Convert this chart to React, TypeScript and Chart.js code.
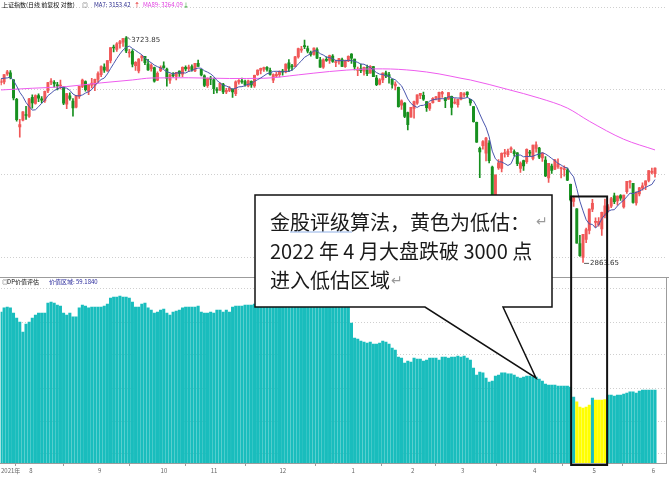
import React, { useEffect, useRef } from 'react';
import { Chart, registerables } from 'chart.js';
Chart.register(...registerables);

// ---------- trading calendar (one entry per candle) ----------
const monthDays: Array<[string, number[]]> = [
  ['2021-07', [20, 21, 22, 23, 26, 27, 28, 29, 30]],
  ['2021-08', [2, 3, 4, 5, 6, 9, 10, 11, 12, 13, 16, 17, 18, 19, 20, 23, 24, 25, 26, 27, 30, 31]],
  ['2021-09', [1, 2, 3, 6, 7, 8, 9, 10, 13, 14, 15, 16, 17, 22, 23, 24, 27, 28, 29, 30]],
  ['2021-10', [8, 11, 12, 13, 14, 15, 18, 19, 20, 21, 22, 25, 26, 27, 28, 29]],
  ['2021-11', [1, 2, 3, 4, 5, 8, 9, 10, 11, 12, 15, 16, 17, 18, 19, 22, 23, 24, 25, 26, 29, 30]],
  ['2021-12', [1, 2, 3, 6, 7, 8, 9, 10, 13, 14, 15, 16, 17, 20, 21, 22, 23, 24, 27, 28, 29, 30, 31]],
  ['2022-01', [4, 5, 6, 7, 10, 11, 12, 13, 14, 17, 18, 19, 20, 21, 24, 25, 26, 27, 28]],
  ['2022-02', [7, 8, 9, 10, 11, 14, 15, 16, 17, 18, 21, 22, 23, 24, 25, 28]],
  ['2022-03', [1, 2, 3, 4, 7, 8, 9, 10, 11, 14, 15, 16, 17, 18, 21, 22, 23, 24, 25, 28, 29, 30, 31]],
  ['2022-04', [1, 6, 7, 8, 11, 12, 13, 14, 15, 18, 19, 20, 21, 22, 25, 26, 27, 28, 29]],
  ['2022-05', [5, 6, 9, 10, 11, 12, 13, 16, 17, 18, 19, 20, 23, 24, 25, 26, 27, 30, 31]],
  ['2022-06', [1, 2]],
];
const monthTickLabels = ['2021年', '8', '9', '10', '11', '12', '1', '2', '3', '4', '5', '6'];

// ---------- 上证指数 daily OHLC ----------
const open = [
  3530, 3533, 3566, 3570, 3541, 3462, 3353, 3379, 3400,
  3394, 3470, 3446, 3477, 3464, 3456, 3496, 3532, 3531, 3521, 3516, 3512, 3443, 3476, 3455, 3431, 3474, 3514, 3534, 3495, 3520, 3520,
  3543, 3563, 3594, 3578, 3622, 3678, 3669, 3694, 3700, 3718, 3654, 3661, 3600, 3578, 3633, 3640, 3608, 3588, 3592, 3540,
  3579, 3600, 3586, 3540, 3563, 3556, 3578, 3565, 3593, 3588, 3597, 3578, 3610, 3585, 3558, 3518,
  3545, 3541, 3502, 3500, 3524, 3492, 3498, 3504, 3485, 3532, 3535, 3534, 3516, 3535, 3516, 3563, 3580, 3586, 3593, 3581, 3540, 3558,
  3563, 3576, 3574, 3612, 3600, 3596, 3637, 3666, 3686, 3673, 3657, 3648, 3668, 3625, 3594, 3624, 3622, 3641, 3613, 3619, 3626, 3596, 3620,
  3649, 3628, 3581, 3588, 3577, 3592, 3569, 3597, 3549, 3524, 3541, 3570, 3563, 3545, 3517, 3511, 3439, 3447, 3409,
  3391, 3426, 3447, 3478, 3478, 3453, 3426, 3449, 3468, 3454, 3484, 3468, 3463, 3474, 3447, 3441,
  3463, 3480, 3491, 3462, 3433, 3371, 3270, 3280, 3252, 3290, 3200, 3067, 3196, 3195, 3250, 3246, 3266, 3258, 3253, 3195, 3224, 3220, 3255,
  3232, 3270, 3271, 3234, 3226, 3159, 3203, 3192, 3200, 3194, 3190, 3188, 3136, 3074, 3048, 2927, 2880, 2941, 2972,
  3047, 3000, 2992, 2977, 3024, 3044, 3057, 3094, 3076, 3095, 3055, 3109, 3144, 3140, 3069, 3101, 3122, 3133, 3150,
  3180, 3175,
];
const high = [
  3545, 3563, 3581, 3580, 3543, 3466, 3382, 3413, 3434,
  3466, 3480, 3480, 3484, 3473, 3495, 3531, 3547, 3538, 3531, 3540, 3514, 3486, 3488, 3465, 3478, 3515, 3545, 3537, 3523, 3548, 3545,
  3575, 3600, 3608, 3622, 3677, 3688, 3698, 3708, 3717, 3723.85, 3670, 3668, 3618, 3630, 3643, 3640, 3627, 3608, 3594, 3575,
  3600, 3616, 3590, 3566, 3572, 3573, 3579, 3595, 3600, 3603, 3604, 3610, 3624, 3586, 3562, 3550,
  3556, 3549, 3510, 3529, 3527, 3507, 3514, 3505, 3537, 3543, 3549, 3540, 3540, 3537, 3561, 3583, 3590, 3594, 3597, 3590, 3566, 3574,
  3579, 3585, 3608, 3626, 3606, 3640, 3675, 3682, 3708.94, 3683, 3662, 3676, 3676, 3635, 3629, 3638, 3645, 3647, 3624, 3631, 3632, 3624, 3642,
  3651, 3628, 3594, 3607, 3594, 3603, 3601, 3598, 3560, 3547, 3570, 3578, 3573, 3545, 3533, 3512, 3460, 3449, 3411,
  3430, 3455, 3480, 3486, 3491, 3453, 3447, 3469, 3474, 3491, 3494, 3469, 3489, 3475, 3465, 3463,
  3490, 3489, 3492, 3462, 3433, 3372, 3275, 3300, 3312, 3300, 3203, 3170, 3228, 3253, 3266, 3267, 3276, 3264, 3254, 3219, 3226, 3268, 3263,
  3283, 3295, 3274, 3253, 3239, 3214, 3211, 3229, 3230, 3200, 3204, 3196, 3137, 3093, 3049, 2955, 2958, 2980, 3048,
  3082, 3016, 3017, 3036, 3083, 3063, 3089, 3104, 3094, 3099, 3097, 3147, 3150, 3140, 3108, 3125, 3141, 3149, 3187,
  3196, 3197,
];
const low = [
  3521, 3525, 3560, 3545, 3460, 3375, 3312.72, 3376, 3382,
  3390, 3427, 3443, 3453, 3448, 3450, 3489, 3522, 3511, 3500, 3504, 3441, 3425, 3459, 3395, 3428, 3466, 3509, 3495, 3481, 3508, 3497,
  3531, 3555, 3572, 3576, 3612, 3658, 3661, 3674, 3682, 3655, 3636, 3595, 3580, 3570, 3620, 3605, 3580, 3577, 3532, 3538,
  3575, 3589, 3515, 3527, 3553, 3541, 3556, 3555, 3578, 3576, 3577, 3575, 3597, 3558, 3513, 3510,
  3522, 3485, 3488, 3497, 3485, 3485, 3493, 3470, 3477, 3524, 3527, 3515, 3512, 3510, 3510, 3560, 3566, 3576, 3577, 3561, 3530, 3552,
  3554, 3561, 3570, 3575, 3582, 3595, 3632, 3656, 3672, 3654, 3640, 3645, 3630, 3593, 3589, 3618, 3610, 3614, 3596, 3607, 3596, 3593, 3617,
  3610, 3583, 3559, 3571, 3561, 3559, 3569, 3555, 3518, 3521, 3530, 3550, 3528, 3507, 3500, 3431, 3422, 3389, 3341,
  3391, 3387, 3442, 3465, 3458, 3414, 3418, 3447, 3460, 3453, 3470, 3429, 3462, 3400, 3444, 3431,
  3460, 3471, 3471, 3438, 3371, 3293, 3160, 3267, 3223, 3215, 3023, 3052, 3191, 3182, 3237, 3239, 3254, 3240, 3205, 3180, 3187, 3213, 3240,
  3226, 3256, 3231, 3221, 3164, 3143, 3176, 3190, 3195, 3159, 3166, 3149, 3076, 3056, 2928, 2884, 2863.65, 2930, 2960,
  3038, 2983, 2987, 2955, 3016, 3036, 3052, 3066, 3061, 3078, 3050, 3103, 3122, 3068, 3061, 3094, 3115, 3117, 3145,
  3174, 3162,
];
const close = [
  3536.79, 3562.70, 3574.73, 3550.40, 3467.44, 3381.18, 3361.59, 3411.72, 3397.36,
  3464.29, 3447.99, 3477.22, 3466.56, 3458.23, 3494.63, 3529.93, 3532.62, 3524.74, 3516.30, 3517.34, 3446.98, 3485.29, 3465.55, 3427.33, 3477.13, 3514.47, 3540.38, 3501.66, 3522.16, 3528.15, 3543.94,
  3567.10, 3597.04, 3581.73, 3621.86, 3676.59, 3675.19, 3693.13, 3703.11, 3715.37, 3662.60, 3656.22, 3607.09, 3613.97, 3628.49, 3642.22, 3613.07, 3582.83, 3602.22, 3536.29, 3568.17,
  3592.17, 3591.71, 3546.94, 3561.76, 3558.28, 3572.37, 3568.14, 3593.15, 3587.00, 3594.78, 3582.60, 3609.86, 3597.64, 3562.31, 3518.42, 3547.34,
  3544.48, 3505.63, 3498.54, 3526.87, 3491.57, 3498.63, 3507.00, 3492.46, 3532.79, 3539.10, 3533.30, 3521.79, 3537.37, 3520.71, 3560.37, 3582.08, 3589.09, 3592.70, 3584.18, 3564.09, 3562.70, 3563.89,
  3576.89, 3573.84, 3607.43, 3589.31, 3595.09, 3637.57, 3673.04, 3666.35, 3681.08, 3661.53, 3647.63, 3675.02, 3632.36, 3593.60, 3625.13, 3622.62, 3643.34, 3618.05, 3615.97, 3630.11, 3597.00, 3619.19, 3639.78,
  3632.33, 3595.18, 3586.08, 3579.54, 3593.52, 3567.44, 3597.43, 3555.06, 3521.26, 3541.67, 3569.91, 3558.18, 3555.06, 3522.57, 3524.11, 3433.06, 3455.67, 3394.25, 3361.44,
  3429.58, 3452.63, 3479.95, 3485.91, 3462.95, 3428.88, 3446.09, 3465.83, 3468.04, 3490.76, 3490.61, 3457.15, 3489.15, 3429.96, 3451.41, 3462.31,
  3488.83, 3484.19, 3481.11, 3447.65, 3372.86, 3293.53, 3256.39, 3296.09, 3309.75, 3223.53, 3063.97, 3170.71, 3215.04, 3251.07, 3253.69, 3259.86, 3271.03, 3250.26, 3212.24, 3214.50, 3203.94, 3266.60, 3252.20,
  3282.72, 3283.43, 3236.70, 3251.85, 3167.13, 3213.33, 3186.82, 3225.64, 3211.24, 3195.52, 3194.03, 3151.05, 3079.81, 3086.92, 2928.51, 2886.43, 2958.28, 2975.48, 3047.06,
  3067.76, 3001.56, 3004.14, 3035.84, 3058.70, 3054.99, 3084.28, 3073.75, 3093.70, 3085.98, 3096.96, 3146.86, 3146.57, 3070.93, 3107.46, 3123.11, 3130.24, 3149.06, 3186.43,
  3182.16, 3195.46,
];
// closes of the six sessions before the first candle (for MA7 warm-up)
const priorCloses = [3547.84, 3566.74, 3528.5, 3564.59, 3539.3, 3539.12];

// MA89 (candle index -> value)
const ma89Index = [0, 10, 21, 32, 42, 48, 60, 73, 84, 95, 105, 116, 122, 132, 140, 147, 150, 162, 172, 181, 188, 199, 209];
const ma89Value = [3500, 3507, 3514, 3529, 3541, 3549, 3550, 3547, 3548, 3562, 3576, 3586, 3587, 3580, 3566, 3548, 3541, 3502, 3467, 3427, 3375, 3305, 3264.09];

// ---------- DP价值评估 bars ----------
const dpValue = [
  122.4, 125.7, 126.5, 125.7, 121.6, 117.5, 114.3, 106.2, 112.7, 114.3,
  117.5, 120.0, 121.6, 121.6, 121.6, 129.7, 130.5, 129.7, 128.1, 127.3,
  121.6, 120.0, 121.6, 118.4, 118.4, 125.7, 128.1, 127.3, 125.7, 126.5,
  126.5, 126.5, 126.5, 127.3, 128.9, 133.8, 134.6, 134.6, 135.4, 134.6,
  134.6, 133.8, 130.5, 126.5, 126.5, 128.9, 129.7, 125.7, 124.0, 121.6,
  122.4, 124.0, 124.8, 121.6, 120.0, 122.4, 123.2, 124.0, 125.7, 126.5,
  126.5, 126.5, 126.5, 127.3, 122.4, 121.6, 121.6, 122.4, 121.6, 124.0,
  124.0, 122.4, 124.0, 122.4, 126.5, 127.3, 127.3, 127.3, 128.1, 128.1,
  128.1, 128.9, 130.5, 132.1, 133.0, 132.1, 130.5, 129.7, 129.7, 130.5,
  130.5, 133.0, 132.1, 132.1, 134.6, 137.0, 137.0, 137.8, 136.2, 135.4,
  137.0, 134.6, 132.1, 133.8, 133.8, 134.6, 133.8, 133.8, 134.6, 132.1,
  133.8, 134.6, 113.5, 101.3, 100.5, 98.9, 98.1, 97.3, 98.1, 96.5,
  96.5, 97.3, 98.9, 98.1, 96.5, 93.2, 91.6, 85.9, 85.1, 81.1,
  82.7, 81.9, 85.1, 84.3, 84.3, 82.7, 83.5, 85.1, 85.1, 85.1,
  83.5, 85.9, 85.9, 85.1, 85.9, 85.9, 86.7, 85.9, 86.7, 85.1,
  83.5, 77.0, 71.3, 73.8, 73.0, 68.9, 65.7, 66.5, 70.5, 71.3,
  73.0, 73.0, 72.2, 72.2, 71.3, 69.7, 68.9, 69.7, 70.5, 70.5,
  69.7, 69.7, 68.1, 66.5, 64.0, 63.2, 63.2, 63.2, 62.4, 62.4,
  62.4, 62.4, 61.6, 53.5, 49.5, 45.4, 44.6, 45.4, 47.0, 52.7,
  51.1, 51.1, 51.1, 51.5, 55.1, 55.1, 54.3, 55.1, 55.1, 55.9,
  56.7, 57.6, 57.6, 56.7, 58.4, 59.2, 59.2, 59.2, 59.2, 59.184,
];
const lowValueThreshold = 52; // below: 低估 (yellow)

// grid levels
const priceGridLevels = [2881, 3172, 3500, 3851];
const dpGridLevels = [7.3, 34.0, 60.8, 87.6, 114.3, 141.1];

// highlighted low-valuation window (candle index range) and its top price
const highlightFrom = 182.2;
const highlightTo = 193.7;
const highlightTopPrice = 3092;

const CJK = '"Noto Sans CJK SC", "Noto Sans", sans-serif';

export default function App() {
  const ref = useRef<HTMLCanvasElement>(null);

  useEffect(() => {
    const dates: string[] = [];
    const monthStart: number[] = [];
    monthDays.forEach(([m, days]) => {
      monthStart.push(dates.length);
      days.forEach((d) => dates.push(`${m}-${String(d).padStart(2, '0')}`));
    });
    const n = dates.length;
    const idx = dates.map((_, i) => i);

    const allCloses = [...priorCloses, ...close];
    const ma7 = idx.map((i) => {
      const s = allCloses.slice(i, i + 7);
      return s.reduce((a, b) => a + b, 0) / s.length;
    });

    const upColor = '#f05858';
    const downColor = '#17901f';
    const candleColors = idx.map((i) => (close[i] >= open[i] ? upColor : downColor));
    const dpColors = dpValue.map((v) => (v < lowValueThreshold ? '#ffff00' : '#19bdbd'));

    const pxPerCandle = 3.132;
    const plotWidth = 666;
    const xMin = -0.4 / pxPerCandle;
    const xMax = xMin + plotWidth / pxPerCandle;

    const overlay = {
      id: 'overlay',
      afterDraw(chart: any) {
        const ctx: CanvasRenderingContext2D = chart.ctx;
        const xs = chart.scales.x;
        const ys = chart.scales.y;
        const area = chart.chartArea;
        ctx.save();

        // panel separator & right border
        ctx.strokeStyle = '#9c9c9c';
        ctx.lineWidth = 1;
        ctx.beginPath();
        ctx.moveTo(0, 277.5);
        ctx.lineTo(669, 277.5);
        ctx.stroke();
        ctx.beginPath();
        ctx.moveTo(area.right + 0.5, 277.5);
        ctx.lineTo(area.right + 0.5, area.bottom);
        ctx.stroke();

        // header
        ctx.textBaseline = 'middle';
        ctx.font = `6px ${CJK}`;
        ctx.fillStyle = '#111';
        ctx.fillText('上证指数(日线 前复权 对数)', 2, 5);
        ctx.fillStyle = '#555';
        ctx.fillText('◎', 82, 5);
        ctx.fillStyle = '#2b2b8c';
        ctx.fillText(`MA7: ${ma7[n - 1].toFixed(2)}`, 94, 5);
        ctx.fillStyle = '#e00000';
        ctx.fillText('↑', 134, 5);
        ctx.fillStyle = '#e040e0';
        ctx.fillText(`MA89: ${ma89Value[ma89Value.length - 1].toFixed(2)}`, 143, 5);
        ctx.fillStyle = '#109010';
        ctx.fillText('↓', 183, 5);

        // lower panel title
        ctx.fillStyle = '#555';
        ctx.fillText('◎', 2, 282);
        ctx.fillStyle = '#111';
        ctx.fillText('DP价值评估', 7, 282);
        ctx.fillStyle = '#2b2b9c';
        ctx.fillText(`价值区域: ${dpValue[n - 1].toFixed(4)}`, 49, 282);

        // high / low markers
        let hi = 0;
        let lo = 0;
        idx.forEach((i) => {
          if (high[i] > high[hi]) hi = i;
          if (low[i] < low[lo]) lo = i;
        });
        ctx.strokeStyle = '#333';
        ctx.fillStyle = '#333';
        ctx.lineWidth = 0.8;
        ctx.font = `7px "DejaVu Sans", sans-serif`;
        const hx = xs.getPixelForValue(hi);
        const hy = ys.getPixelForValue(high[hi]);
        ctx.beginPath();
        ctx.moveTo(hx + 1, hy);
        ctx.lineTo(hx + 4, hy + 3);
        ctx.stroke();
        ctx.fillText(high[hi].toFixed(2), hx + 5, hy + 3);
        const lx = xs.getPixelForValue(lo);
        const ly = ys.getPixelForValue(low[lo]);
        ctx.beginPath();
        ctx.moveTo(lx + 1, ly + 1);
        ctx.lineTo(lx + 6, ly + 1);
        ctx.stroke();
        ctx.fillText(low[lo].toFixed(2), lx + 7, ly + 1);

        // highlight rectangle
        ctx.strokeStyle = '#111';
        ctx.lineWidth = 2;
        const bx0 = xs.getPixelForValue(highlightFrom);
        const bx1 = xs.getPixelForValue(highlightTo);
        const by0 = ys.getPixelForValue(highlightTopPrice);
        ctx.strokeRect(bx0, by0, bx1 - bx0, area.bottom + 2 - by0);

        // callout
        ctx.beginPath();
        ctx.moveTo(255, 195);
        ctx.lineTo(552, 195);
        ctx.lineTo(552, 307);
        ctx.lineTo(503, 307);
        ctx.lineTo(536, 378);
        ctx.lineTo(425, 307);
        ctx.lineTo(255, 307);
        ctx.closePath();
        ctx.fillStyle = '#fff';
        ctx.fill();
        ctx.strokeStyle = '#111';
        ctx.lineWidth = 1.5;
        ctx.stroke();

        ctx.fillStyle = '#1a1a1a';
        ctx.font = `20px ${CJK}`;
        ctx.textBaseline = 'middle';
        ctx.fillText('金股评级算法，黄色为低估：', 270, 222);
        ctx.fillText('2022 年 4 月大盘跌破 3000 点', 270, 251);
        ctx.fillText('进入低估区域', 270, 280);
        ctx.fillStyle = '#9a9a9a';
        ctx.font = `14px "DejaVu Sans", sans-serif`;
        ctx.fillText('↵', 536, 222);
        ctx.fillText('↵', 391, 281);
        // spell-check squiggle
        ctx.strokeStyle = '#8fb0e6';
        ctx.lineWidth = 1;
        ctx.beginPath();
        ctx.moveTo(290, 232);
        ctx.lineTo(352, 232);
        ctx.stroke();
        ctx.restore();
      },
    };

    const chart = new Chart(ref.current as HTMLCanvasElement, {
      type: 'bar',
      data: {
        datasets: [
          {
            type: 'line',
            label: 'MA7',
            data: idx.map((i) => ({ x: i, y: ma7[i] })),
            borderColor: '#4a56ad',
            borderWidth: 1,
            pointRadius: 0,
            yAxisID: 'y',
            order: 0,
          } as any,
          {
            type: 'line',
            label: 'MA89',
            data: ma89Index.map((x, k) => ({ x, y: ma89Value[k] })),
            borderColor: '#ee5cee',
            borderWidth: 1,
            pointRadius: 0,
            cubicInterpolationMode: 'monotone',
            yAxisID: 'y',
            order: 0,
          },
          {
            type: 'bar',
            label: 'body',
            data: idx.map((i) => ({ x: i, y: [open[i], close[i]] })),
            backgroundColor: candleColors,
            borderWidth: 0,
            barThickness: 2.3,
            minBarLength: 1,
            grouped: false,
            yAxisID: 'y',
            order: 1,
          },
          {
            type: 'bar',
            label: 'wick',
            data: idx.map((i) => ({ x: i, y: [low[i], high[i]] })),
            backgroundColor: candleColors,
            borderWidth: 0,
            barThickness: 1,
            grouped: false,
            yAxisID: 'y',
            order: 2,
          },
          {
            type: 'bar',
            label: 'DP',
            data: idx.map((i) => ({ x: i, y: dpValue[i] })),
            backgroundColor: dpColors,
            borderWidth: 0,
            barThickness: 2.4,
            grouped: false,
            yAxisID: 'y2',
            order: 3,
          },
        ] as any,
      },
      options: {
        animation: false,
        responsive: false,
        devicePixelRatio: 1,
        layout: { padding: { left: 0, right: 669 - plotWidth, top: 0, bottom: 0 } },
        plugins: { legend: { display: false }, tooltip: { enabled: false } },
        scales: {
          x: {
            type: 'linear',
            min: xMin,
            max: xMax,
            offset: false,
            afterBuildTicks: (s: any) => {
              s.ticks = monthStart.map((v) => ({ value: v }));
            },
            afterFit: (s: any) => {
              s.height = 37;
            },
            ticks: {
              autoSkip: false,
              maxRotation: 0,
              align: 'start',
              padding: 1,
              color: '#666',
              font: { family: CJK, size: 6 },
              callback: (_v: any, i: number) => monthTickLabels[i],
            },
            grid: { display: true, drawOnChartArea: false, drawTicks: true, tickLength: 3, color: '#9c9c9c' },
            border: { display: true, color: '#9c9c9c' },
          },
          y: {
            type: 'logarithmic',
            position: 'left',
            min: 2267.4,
            max: 3886.3,
            afterBuildTicks: (s: any) => {
              s.ticks = priceGridLevels.map((v) => ({ value: v }));
            },
            afterFit: (s: any) => {
              s.width = 0;
            },
            ticks: { display: false },
            grid: { color: '#cfcfcf', drawTicks: false },
            border: { display: false, dash: [1, 2] },
          },
          y2: {
            type: 'linear',
            position: 'left',
            min: 0,
            max: 463 * 0.8107,
            afterBuildTicks: (s: any) => {
              s.ticks = dpGridLevels.map((v) => ({ value: v }));
            },
            afterFit: (s: any) => {
              s.width = 0;
            },
            ticks: { display: false },
            grid: { color: '#cfcfcf', drawTicks: false },
            border: { display: false, dash: [1, 2] },
          },
        },
      } as any,
      plugins: [overlay],
    });
    return () => chart.destroy();
  }, []);

  return (
    <div style={{ position: 'fixed', left: 0, top: 0, width: 669, height: 500, background: '#fff' }}>
      <canvas ref={ref} width={669} height={500} style={{ display: 'block', width: 669, height: 500 }} />
    </div>
  );
}
